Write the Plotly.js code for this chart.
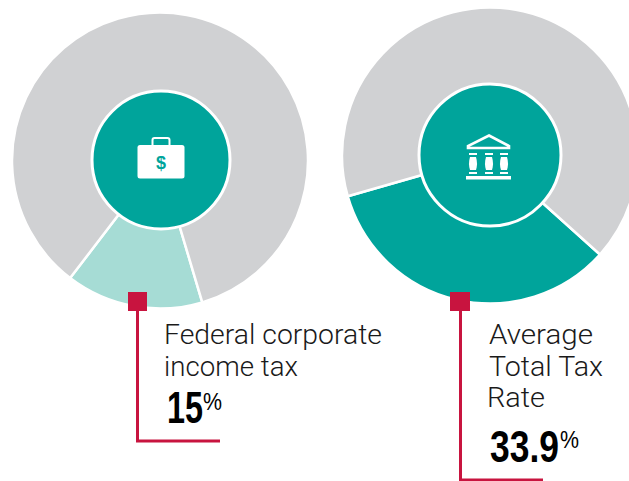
<!DOCTYPE html>
<html><head><meta charset="utf-8">
<script src="https://cdn.plot.ly/plotly-3.0.0.min.js"></script>
<style>html,body{margin:0;padding:0;background:#fff;overflow:hidden;width:629px;height:481px}</style></head>
<body><div id="chart" style="width:680px;height:481px"></div>
<script>
const sliceNames = ["Share", "Remainder"];
const federalValues = [15, 85];
const totalValues = [33.9, 66.1];
const federalColors = ["#a6dcd5", "#d0d1d3"];
const totalColors = ["#00a49b", "#d0d1d3"];
const hubValue = [1];
const hubColor = ["#00a49b"];
const W = 680, H = 481;
const RED = "#c8143f", TEAL = "#00a49b", TXT = "#1a1a1a";

function dom(cx, cy, r) {
  return { x: [(cx - r) / W, (cx + r) / W], y: [1 - (cy + r) / H, 1 - (cy - r) / H] };
}
function ring(values, colors, rot, cx, cy, r) {
  return { type: "pie", labels: sliceNames, values, sort: false, direction: "clockwise", rotation: rot,
    marker: { colors, line: { color: "#fff", width: 2.5 } }, textinfo: "none", hoverinfo: "skip",
    showlegend: false, domain: dom(cx, cy, r) };
}
function hub(cx, cy, r) {
  return { type: "pie", labels: ["Hub"], values: hubValue, sort: false,
    marker: { colors: hubColor, line: { color: "#fff", width: 3 } }, textinfo: "none", hoverinfo: "skip",
    showlegend: false, domain: dom(cx, cy, r) };
}
const traces = [
  ring(federalValues, federalColors, 163.4, 160, 160.5, 148),
  ring(totalValues, totalColors, 132, 490, 155.5, 148),
  hub(161, 160, 69),
  hub(490, 155, 71)
];
function seg(path, fill, line, w) {
  return { type: "path", xref: "x", yref: "y", layer: "above", path,
    fillcolor: fill || "rgba(0,0,0,0)", line: { color: line || "rgba(0,0,0,0)", width: w || 0 } };
}
function rect(x0, y0, x1, y1, c) {
  return { type: "rect", xref: "x", yref: "y", layer: "above", x0, y0, x1, y1, fillcolor: c, line: { width: 0 } };
}
const shapes = [
  seg("M137.5,305 L137.5,441 L220,441", null, RED, 3),
  rect(128, 292, 147, 311, RED),
  seg("M460.5,305 L460.5,480 L543,480", null, RED, 3),
  rect(450, 292, 470, 311, RED),
  seg("M140,145 L182,145 Q184.5,145 184.5,147.5 L184.5,176 Q184.5,178.5 182,178.5 L140,178.5 Q137.5,178.5 137.5,176 L137.5,147.5 Q137.5,145 140,145 Z", "#fff"),
  seg("M152.5,145 L152.5,140 Q152.5,138 154.5,138 L167.5,138 Q169.5,138 169.5,140 L169.5,145", null, "#fff", 2),
  seg("M489,135.5 L509,146 L509,148 L468,148 L468,146 Z", null, "#fff", 2.6),
  rect(469, 153, 477, 155, "#fff"), rect(485, 153, 493, 155, "#fff"), rect(500, 153, 508, 155, "#fff"),
  seg("M470,157 L476,157 Q478,163.5 476,170 L470,170 Q468,163.5 470,157 Z", "#fff"),
  seg("M486,157 L492,157 Q494,163.5 492,170 L486,170 Q484,163.5 486,157 Z", "#fff"),
  seg("M501,157 L507,157 Q509,163.5 507,170 L501,170 Q499,163.5 501,157 Z", "#fff"),
  rect(469, 172, 477, 174, "#fff"), rect(485, 172, 493, 174, "#fff"), rect(500, 172, 508, 174, "#fff"),
  rect(466, 176, 511, 179.5, "#fff")
];
const SANS = "Roboto, Liberation Sans, Arial, sans-serif";
const BOLD = "Liberation Sans, Arial, sans-serif";
function label(x, y, text, size, weight, color, family) {
  return { xref: "x", yref: "y", x, y, text, showarrow: false, xanchor: "left", yanchor: "middle",
    font: { size, family: family || SANS, color: color || TXT, weight: weight || 300 } };
}
const annotations = [
  label(162, 335, "Federal corporate", 27),
  label(162, 367, "income tax", 27),
  label(487, 335, "Average", 27),
  label(487, 367, "Total Tax", 27),
  label(485, 398, "Rate", 27),
  label(165, 407, "15", 44, 700, "#000", BOLD),
  label(201, 401, "%", 24, 400, "#000", BOLD),
  label(488, 446, "33.9", 45, 700, "#000", BOLD),
  label(558, 439, "%", 24, 400, "#000", BOLD),
  { xref: "x", yref: "y", x: 161, y: 163, text: "$", showarrow: false, xanchor: "center", yanchor: "middle",
    font: { size: 18, family: BOLD, color: TEAL, weight: 700 } }
];
const squeeze = { "15": 36, "33.9": 69, "%": 19, "Federal corporate": 218, "income tax": 134, "Average": 104, "Total Tax": 114, "Rate": 58 };
const layout = { width: W, height: H, margin: { l: 0, r: 0, t: 0, b: 0, pad: 0 },
  paper_bgcolor: "#fff", plot_bgcolor: "rgba(0,0,0,0)",
  xaxis: { visible: false, range: [0, W], fixedrange: true },
  yaxis: { visible: false, range: [H, 0], fixedrange: true },
  showlegend: false, shapes, annotations };
Plotly.newPlot("chart", traces, layout, { displayModeBar: false, staticPlot: true }).then(function () {
  document.querySelectorAll(".annotation-text-g text").forEach(function (t) {
    const w = squeeze[t.textContent];
    if (!w) return;
    const b = t.getBBox();
    const s = w / b.width;
    t.setAttribute("transform", "translate(" + b.x + ",0) scale(" + s + ",1) translate(" + (-b.x) + ",0)");
  });
});
</script></body></html>
